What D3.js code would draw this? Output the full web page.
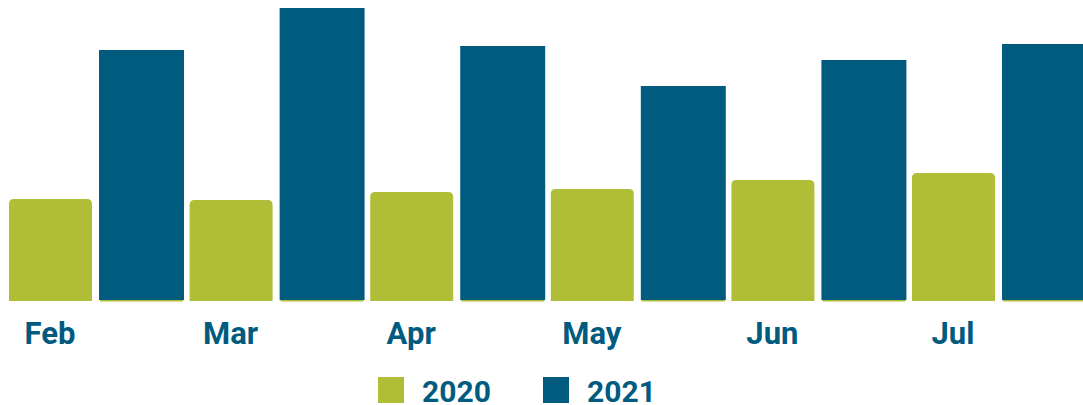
<!DOCTYPE html>
<html>
  <head>
    <script type="text/javascript" src="https://cdn.jsdelivr.net/npm/d3@7/dist/d3.min.js"></script>
    <style>
      body { margin: 0; background: #fff; }
      text { font-family: Roboto, sans-serif; font-weight: bold; fill: #005b7f; }
    </style>
  </head>
  <body>
    <script type="text/javascript">
    // chart data
    var months = ["Feb", "Mar", "Apr", "May", "Jun", "Jul"];
    var seriesNames = ["2020", "2021"];
    var values2020 = [102, 101, 109, 112, 121, 128];
    var values2021 = [251, 293, 255, 215, 241, 257];
    var colors = ["#afbe36", "#005b7f"];

    var width = 1083, height = 405;
    var baseY = 301;

    var svg = d3.select('body').append('svg')
                .attr('width', width)
                .attr('height', height);

    var x0 = d3.scaleBand().domain(months).range([9, 9 + 6 * 180.6]).padding(0);
    var x1 = d3.scaleBand().domain(seriesNames).range([0, 174]).paddingInner(0.067);
    var y = d3.scaleLinear().domain([0, 293]).range([baseY, 8]);

    var rows = months.map(function(m, i) {
        return {month: m, vals: [values2020[i], values2021[i]]};
    });

    function topRounded(x, y0, w, h, r) {
        return 'M' + x + ',' + (y0 + h) +
               'V' + (y0 + r) +
               'Q' + x + ',' + y0 + ' ' + (x + r) + ',' + y0 +
               'H' + (x + w - r) +
               'Q' + (x + w) + ',' + y0 + ' ' + (x + w) + ',' + (y0 + r) +
               'V' + (y0 + h) + 'Z';
    }

    var groups = svg.selectAll('g.month')
        .data(rows)
        .enter()
        .append('g')
        .attr('class', 'month')
        .attr('transform', function(d) { return 'translate(' + x0(d.month) + ',0)'; });

    // thin green line under 2021 bars
    groups.append('rect')
        .attr('x', x1('2021') + 1)
        .attr('y', baseY - 1.5)
        .attr('width', x1.bandwidth() - 1)
        .attr('height', 2)
        .style('fill', colors[0]);

    // 2021 bars
    groups.append('rect')
        .attr('x', x1('2021'))
        .attr('y', function(d) { return y(d.vals[1]); })
        .attr('width', x1.bandwidth() + 1)
        .attr('height', function(d) { return baseY - 1 - y(d.vals[1]); })
        .style('fill', colors[1]);

    // 2020 bars (rounded tops)
    groups.append('path')
        .attr('d', function(d) {
            var yy = y(d.vals[0]);
            return topRounded(x1('2020'), yy, x1.bandwidth() - 1, baseY - yy, 5);
        })
        .style('fill', colors[0]);

    // month labels
    groups.append('text')
        .attr('x', x1('2020') + x1.bandwidth() / 2 - 1)
        .attr('y', 344)
        .attr('text-anchor', 'middle')
        .style('font-size', '31px')
        .text(function(d) { return d.month; });

    // legend
    var legendX = [378, 543];
    var legend = svg.selectAll('g.legend')
        .data(seriesNames)
        .enter()
        .append('g')
        .attr('class', 'legend')
        .attr('transform', function(d, i) { return 'translate(' + legendX[i] + ',377)'; });

    legend.append('rect')
        .attr('width', 26)
        .attr('height', 26)
        .style('fill', function(d, i) { return colors[i]; });

    legend.append('text')
        .attr('x', 44)
        .attr('y', 24.5)
        .style('font-size', '30px')
        .text(function(d) { return d; });
    </script>
  </body>
</html>
